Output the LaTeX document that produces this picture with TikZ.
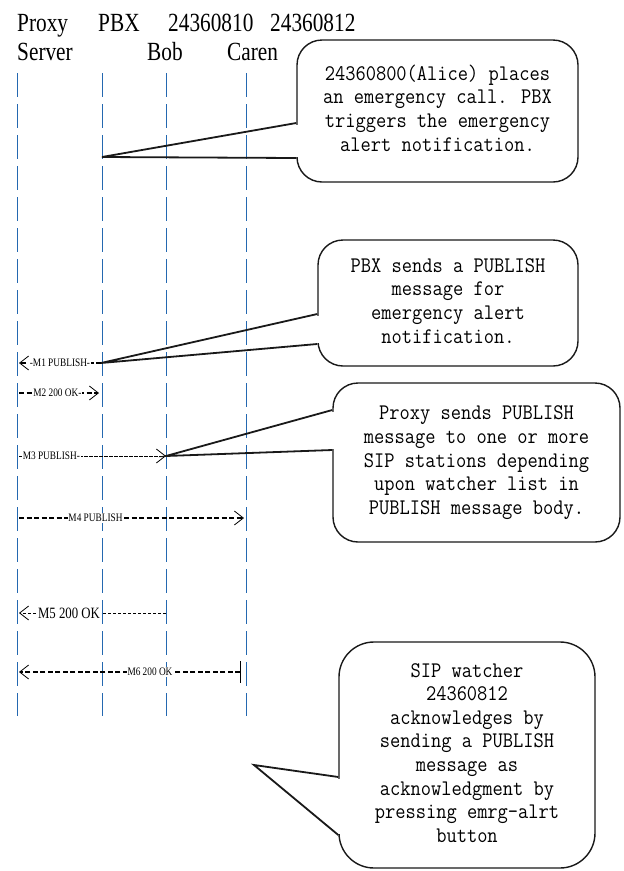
\documentclass[tikz,border=0pt]{standalone}
\usepackage{fontspec}
\setmainfont{Liberation Serif}
\usepackage{graphicx}
\usetikzlibrary{arrows.meta,calc}
\definecolor{lifeblue}{RGB}{36,104,176}
\newcommand{\vstretch}[1]{\scalebox{1}[1.23]{#1}}
\newcommand{\mstretch}[1]{\scalebox{1}[1.12]{#1}}
\newcommand{\hdrfont}{\fontsize{21.3}{25}\selectfont}
\newcommand{\boxfont}{\ttfamily\fontsize{19.9}{21.1}\selectfont}
\newcommand{\tinyfont}{\fontsize{9.3}{11}\selectfont}
\newcommand{\midfont}{\fontsize{12.8}{14}\selectfont}
\tikzset{
  chev/.tip={Straight Barb[length=9pt,width=14pt,line width=0.8pt]},
  endbar/.tip={Bar[width=22pt,line width=1pt]},
}
\begin{document}
\begin{tikzpicture}[x=1pt,y=-1pt,
  hdr/.style={anchor=base west, inner sep=0pt, font=\hdrfont},
  lifeline/.style={lifeblue, line width=1.0pt, dash pattern=on 24pt off 7pt},
  msgthick/.style={black, line width=1.5pt, dash pattern=on 5pt off 2.5pt},
  msgthin/.style={black, line width=0.6pt, dash pattern=on 3.5pt off 1.5pt},
  lbl/.style={fill=white, inner sep=0.8pt, font=\tinyfont},
  lblmid/.style={fill=white, inner sep=0.8pt, font=\midfont},
  callout/.style={draw=black!90, line width=1.4pt, fill=white, rounded corners=25pt, inner sep=0pt, align=center},
  tail/.style={draw=black!90, line width=1.8pt, line join=miter},
  erase/.style={white, line width=2.4pt, shorten <=1.5pt, shorten >=1.5pt},
]
\useasboundingbox (0,0) rectangle (624,871);

% header
\node[hdr] (hproxy) at (17,31) {\vstretch{Proxy}};
\node[hdr] (hserver) at (17,60) {\vstretch{Server}};
\node[hdr] (hpbx) at (98,31) {\vstretch{PBX}};
\node[hdr] (hbobnum) at (168,31) {\vstretch{24360810}};
\node[hdr] (hbob) at (147,60) {\vstretch{Bob}};
\node[hdr] (hcarnum) at (270,31) {\vstretch{24360812}};
\node[hdr] (hcaren) at (227,60) {\vstretch{Caren}};

% lifelines
\coordinate (proxytop) at (17,73);   \coordinate (proxybot) at (17,716);
\coordinate (pbxtop) at (102,73);    \coordinate (pbxbot) at (102,716);
\coordinate (bobtop) at (166,73);    \coordinate (bobbot) at (166,716);
\coordinate (carentop) at (246,73);  \coordinate (carenbot) at (246,716);
\draw[lifeline] (proxytop) -- (proxybot);
\draw[lifeline] (pbxtop) -- (pbxbot);
\draw[lifeline] (bobtop) -- (bobbot);
\draw[lifeline] (carentop) -- (carenbot);

% message end points
\coordinate (m1s) at (101,363); \coordinate (m1e) at (19,363);
\coordinate (m2s) at (19,393);  \coordinate (m2e) at (99,393);
\coordinate (m3s) at (19,456);  \coordinate (m3e) at (166,456);
\coordinate (m4s) at (19,518);  \coordinate (m4e) at (244,518);
\coordinate (m5s) at (166,613); \coordinate (m5e) at (19,613);
\coordinate (m6s) at (241,672); \coordinate (m6e) at (19,672);

% messages
\draw[msgthick,-chev] (m1s) -- (m1e) node[lbl,pos=0.5] {\vstretch{-M1 PUBLISH-}};
\draw[msgthick,-chev] (m2s) -- (m2e) node[lbl,pos=0.48] {\vstretch{M2 200 OK-}};
\draw[msgthin,-chev] (m3s) -- (m3e) node[lbl,pos=0.22] {\vstretch{M3 PUBLISH-}};
\draw[msgthick,-chev] (m4s) -- (m4e) node[lbl,pos=0.34] {\vstretch{M4 PUBLISH}};
\draw[msgthin,-chev] (m5s) -- (m5e) node[lblmid,pos=0.66] {\vstretch{M5 200 OK}};
\draw[msgthick,endbar-chev] (m6s) -- (m6e) node[lbl,pos=0.41] {\vstretch{M6 200 OK}};

% callouts
\coordinate (alert) at (102,157);
\coordinate (watcher) at (254,765);

\node[callout, minimum width=281pt, minimum height=142pt] (c1) at (437.5,111)
  {\mstretch{\boxfont\begin{tabular}{@{}c@{}}24360800(Alice) places\\an emergency call. PBX\\triggers the emergency\\alert notification.\end{tabular}}};
\draw[erase] (c1.west |- 0,123) -- (c1.west |- 0,158);
\draw[tail] (c1.west |- 0,123) -- (alert) -- (c1.west |- 0,158);

\node[callout, minimum width=260pt, minimum height=126pt] (c2) at (448,303)
  {\mstretch{\boxfont\begin{tabular}{@{}c@{}}PBX sends a PUBLISH\\message for\\emergency alert\\notification.\end{tabular}}};
\draw[erase] (c2.west |- 0,314) -- (c2.west |- 0,344);
\draw[tail] (c2.west |- 0,314) -- (m1s) -- (c2.west |- 0,344);

\node[callout, minimum width=287pt, minimum height=159pt] (c3) at (476.5,462.5)
  {\mstretch{\boxfont\begin{tabular}{@{}c@{}}Proxy sends PUBLISH\\message to one or more\\SIP stations depending\\upon watcher list in\\PUBLISH message body.\end{tabular}}};
\draw[erase] (c3.west |- 0,410) -- (c3.west |- 0,450);
\draw[tail] (c3.west |- 0,410) -- (m3e) -- (c3.west |- 0,450);

\node[callout, rounded corners=35pt, minimum width=256pt, minimum height=226pt] (c4) at (467,755)
  {\mstretch{\boxfont\begin{tabular}{@{}c@{}}SIP watcher\\24360812\\acknowledges by\\sending a PUBLISH\\message as\\acknowledgment by\\pressing emrg-alrt\\button\end{tabular}}};
\draw[erase] (c4.west |- 0,777) -- (c4.west |- 0,835);
\draw[tail] (c4.west |- 0,777) -- (watcher) -- (c4.west |- 0,835);
\end{tikzpicture}
\end{document}
